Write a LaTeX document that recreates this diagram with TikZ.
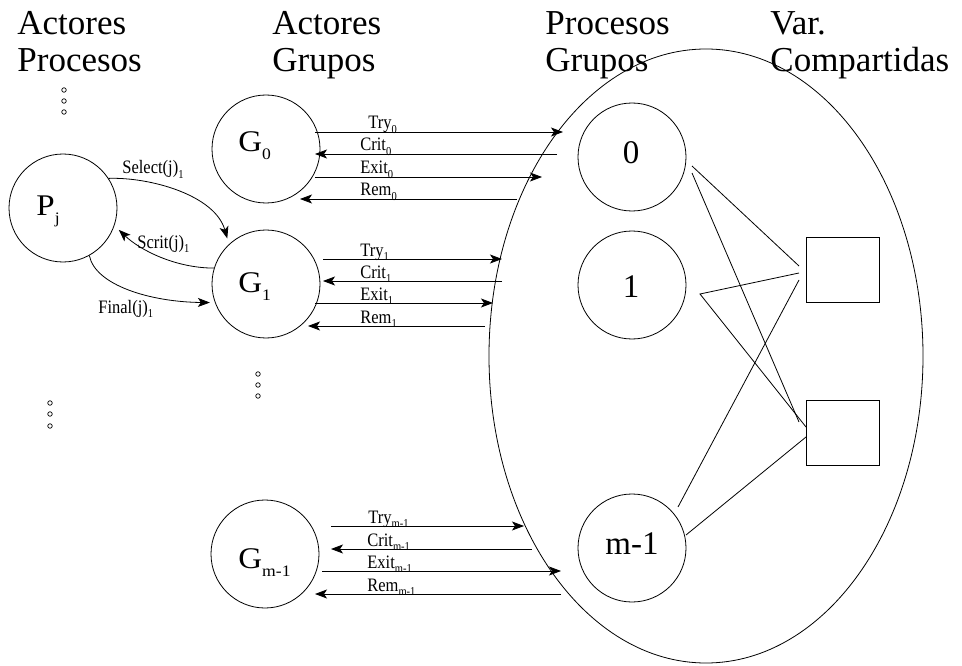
\documentclass[tikz,border=0pt]{standalone}
\usepackage{fontspec}
\usepackage{graphicx}
\setmainfont{Liberation Serif}
\usetikzlibrary{arrows.meta,shapes.geometric}

% small message label with a lowered index, slightly tall letters
\newcommand\msg[2]{\scalebox{1}[1.15]{#1\raisebox{-4pt}{\fontsize{10.5}{11}\selectfont #2}}}
% actor name with a lowered index, slightly wide letters
\newcommand\act[2]{\scalebox{1.1}[1]{#1\raisebox{-8pt}{\fontsize{16}{16}\selectfont #2}}}

\begin{document}
\begin{tikzpicture}[x=1pt,y=-1pt,
  line width=0.8pt,
  every node/.style={inner sep=0pt},
  title/.style={anchor=base west, font=\fontsize{35}{37}\selectfont},
  ring/.style={draw, circle, minimum size=108pt},
  aname/.style={anchor=base west, font=\fontsize{30}{32}\selectfont},
  pname/.style={anchor=base, font=\fontsize{33}{35}\selectfont},
  var/.style={draw, rectangle, minimum width=73pt, minimum height=65pt},
  lbl/.style={anchor=base west, font=\fontsize{16.5}{18}\selectfont},
  sig/.style={-{Stealth[length=12pt,width=9pt,inset=3pt]}},
  dot/.style={draw, circle, minimum size=4.5pt, line width=0.7pt},
]
\useasboundingbox (0,0) rectangle (962,666);

% column headings
\node[title] (h1a) at (17,35) {Actores};
\node[title] (h1b) at (17,72) {Procesos};
\node[title] (h2a) at (272,35) {Actores};
\node[title] (h2b) at (272,72) {Grupos};
\node[title] (h3a) at (545,35) {Procesos};
\node[title] (h3b) at (545,72) {Grupos};
\node[title] (h4a) at (770,35) {Var.};
\node[title] (h4b) at (770,72) {Compartidas};

% actors
\node[ring] (pj) at (63,208) {};
\node[ring] (g0) at (266,149) {};
\node[ring] (g1) at (266,284) {};
\node[ring] (gm) at (265,554) {};
\node[aname] (tpj) at (36,215) {\act{P}{j}};
\node[aname] (tg0) at (238,152) {\act{G}{0}};
\node[aname] (tg1) at (238,292) {\act{G}{1}};
\node[aname] (tgm) at (238,568) {\act{G}{m-1}};

% group processes inside the big ellipse
\node[draw, ellipse, minimum width=434pt, minimum height=614pt] (grp) at (706,356) {};
\node[ring] (p0) at (632,157) {};
\node[ring] (p1) at (632,285) {};
\node[ring] (pm) at (632,548) {};
\node[pname] (tp0) at (631,164) {0};
\node[pname] (tp1) at (631,297) {1};
\node[pname] (tpm) at (632,554) {m-1};

% shared variables
\node[var] (v1) at (842.5,269.5) {};
\node[var] (v2) at (842.5,433) {};

% vertical ellipsis marks
\foreach \n/\x/\y in {a1/64/90, a2/64/101, a3/64/112,
                      b1/50/403, b2/50/414, b3/50/426,
                      c1/258/374, c2/258/385, c3/258/396}
  \node[dot] (dot\n) at (\x,\y) {};

% P_j <-> G_1 interaction
\draw[sig, shorten >=6pt] (pj.33) .. controls (150,177) and (215,195) .. (g1.133);
\node[lbl] (lsel) at (122,174) {\msg{Select(j)}{1}};
\draw[sig, shorten >=6pt] (g1.163) .. controls (175,268) and (140,250) .. (pj.-19);
\node[lbl] (lscr) at (137,248) {\msg{Scrit(j)}{1}};
\draw[sig, shorten >=5pt] (pj.-61) .. controls (95,285) and (150,302) .. (g1.200);
\node[lbl] (lfin) at (98,313) {\msg{Final(j)}{1}};

% messages between group actors and group processes
\foreach \k/\nm/\sub/\y/\xa/\xb/\lx in {
    a/Try/0/132/315/563/368,
    b/Crit/0/154/557/315/360,
    c/Exit/0/177/315/542/360,
    d/Rem/0/199/517/300/360,
    e/Try/1/259/323/502/360,
    f/Crit/1/281/502/323/360,
    g/Exit/1/303/315/493/360,
    h/Rem/1/326/485/308/360,
    i/Try/m-1/526/331/524/368,
    j/Crit/m-1/549/532/331/367,
    k/Exit/m-1/571/322/561/367,
    l/Rem/m-1/594/561/315/367} {
  \coordinate (ms\k) at (\xa,\y);
  \coordinate (me\k) at (\xb,\y);
  \draw[sig] (ms\k) -- (me\k);
  \node[lbl] (ml\k) at (\lx,\y-3) {\msg{\nm}{\sub}};
}

% links between group processes and shared variables
\coordinate (q0a) at (692,166);
\coordinate (q0b) at (692,173);
\coordinate (q1)  at (700,294);
\coordinate (qma) at (678,507);
\coordinate (qmb) at (686,535);
\coordinate (r1a) at (799,266);
\coordinate (r1b) at (799,273);
\coordinate (r1c) at (799,280);
\coordinate (r2a) at (799,422);
\coordinate (r2b) at (806,427);
\coordinate (r2c) at (806,437);
\draw (q0a) -- (r1a);
\draw (q0b) -- (r2a);
\draw (r1b) -- (q1) -- (r2b);
\draw (qma) -- (r1c);
\draw (qmb) -- (r2c);
\end{tikzpicture}
\end{document}
